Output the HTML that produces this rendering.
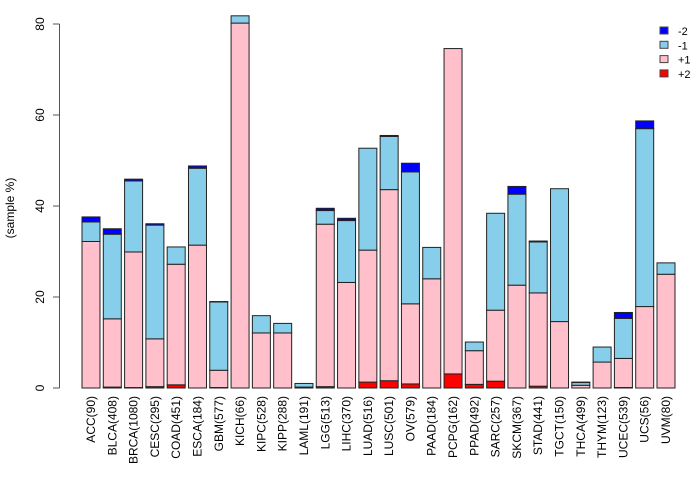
<!DOCTYPE html>
<html><head><meta charset="utf-8"><style>
body{margin:0;background:#fff}
svg{display:block;font-family:"Liberation Sans",sans-serif}
</style></head><body>
<svg id="chart" width="700" height="480">
<g id="bars"></g>
<g id="axis"></g>
<g id="xlabels"></g>
<text x="14" y="208" font-size="12" text-anchor="middle" transform="rotate(-90 14 208)">(sample %)</text>
<g id="legend"></g>
</svg>
<script>
const categories=["ACC(90)","BLCA(408)","BRCA(1080)","CESC(295)","COAD(451)","ESCA(184)","GBM(577)","KICH(66)","KIPC(528)","KIPP(288)","LAML(191)","LGG(513)","LIHC(370)","LUAD(516)","LUSC(501)","OV(579)","PAAD(184)","PCPG(162)","PPAD(492)","SARC(257)","SKCM(367)","STAD(441)","TGCT(150)","THCA(499)","THYM(123)","UCEC(539)","UCS(56)","UVM(80)"];
const plus2=[0,0.2,0.1,0.3,0.7,0,0.1,0,0,0,0,0.3,0,1.3,1.6,0.9,0,3.1,0.8,1.5,0,0.4,0,0,0,0.1,0,0];
const plus1=[32.2,15.0,29.8,10.5,26.5,31.4,3.8,80.2,12.1,12.1,0.2,35.7,23.2,29.0,42.0,17.6,24.0,71.5,7.4,15.6,22.6,20.5,14.6,0.6,5.7,6.4,17.9,25.0];
const minus1=[4.3,18.6,15.6,25.0,3.8,16.9,15.0,1.6,3.8,2.1,0.8,3.0,13.6,22.4,11.7,29.0,6.9,0,1.9,21.3,20.0,11.2,29.2,0.6,3.3,8.8,39.1,2.5];
const minus2=[1.1,1.2,0.4,0.3,0,0.5,0.1,0,0,0,0,0.5,0.5,0,0.2,1.9,0,0,0,0,1.7,0.2,0,0.1,0,1.3,1.7,0];
const yTicks=[0,20,40,60,80];
const seriesNames=["-2","-1","+1","+2"];
const seriesColors=["#0000ff","#87ceeb","#ffc0cb","#ff0000"];
const NS="http://www.w3.org/2000/svg";
const y=v=>388-v*4.55;
const xc=i=>91+i*(575/27);
const W=18;
const bars=document.getElementById('bars');
const stack=[plus2,plus1,minus1,minus2];
const cols=["#ff0000","#ffc0cb","#87ceeb","#0000ff"];
const snames=["plus2","plus1","minus1","minus2"];
categories.forEach((c,i)=>{
  let base=0;
  stack.forEach((s,k)=>{
    const v=s[i];
    const r=document.createElementNS(NS,'rect');
    r.setAttribute('x',xc(i)-W/2);r.setAttribute('width',W);
    r.setAttribute('y',y(base+v));r.setAttribute('height',Math.max(0,y(base)-y(base+v)));
    r.setAttribute('fill',cols[k]);r.setAttribute('stroke','#222');r.setAttribute('stroke-width','1');
    
    
    bars.appendChild(r);
    base+=v;
  });
  const t=document.createElementNS(NS,'text');
  const tx=xc(i)+4;
  t.setAttribute('x',tx);t.setAttribute('y',396);
  t.setAttribute('font-size','12');t.setAttribute('text-anchor','end');
  t.setAttribute('transform','rotate(-90 '+tx+' 396)');
  t.textContent=c;
  
  
  document.getElementById('xlabels').appendChild(t);
});
const ax=document.getElementById('axis');
const al=document.createElementNS(NS,'line');
al.setAttribute('x1',59.5);al.setAttribute('x2',59.5);al.setAttribute('y1',y(80));al.setAttribute('y2',y(0));
al.setAttribute('stroke','#555');


ax.appendChild(al);
yTicks.forEach(v=>{
  const l=document.createElementNS(NS,'line');
  l.setAttribute('x1',53);l.setAttribute('x2',59.5);l.setAttribute('y1',y(v));l.setAttribute('y2',y(v));
  l.setAttribute('stroke','#555');
  
  
  ax.appendChild(l);
  const t=document.createElementNS(NS,'text');
  t.setAttribute('x',44);t.setAttribute('y',y(v));
  t.setAttribute('font-size','12');t.setAttribute('text-anchor','middle');
  t.setAttribute('transform','rotate(-90 44 '+y(v)+')');
  t.textContent=v;
  
  
  ax.appendChild(t);
});
const lg=document.getElementById('legend');
seriesNames.forEach((n,k)=>{
  const r=document.createElementNS(NS,'rect');
  r.setAttribute('x',660);r.setAttribute('y',27+k*14.3);r.setAttribute('width',8);r.setAttribute('height',7);
  r.setAttribute('fill',seriesColors[k]);r.setAttribute('stroke','#444');
  
  
  lg.appendChild(r);
  const t=document.createElementNS(NS,'text');
  t.setAttribute('x',678);t.setAttribute('y',35+k*14.3);t.setAttribute('font-size','11');
  t.textContent=n;
  
  
  lg.appendChild(t);
});
</script>
</body></html>
